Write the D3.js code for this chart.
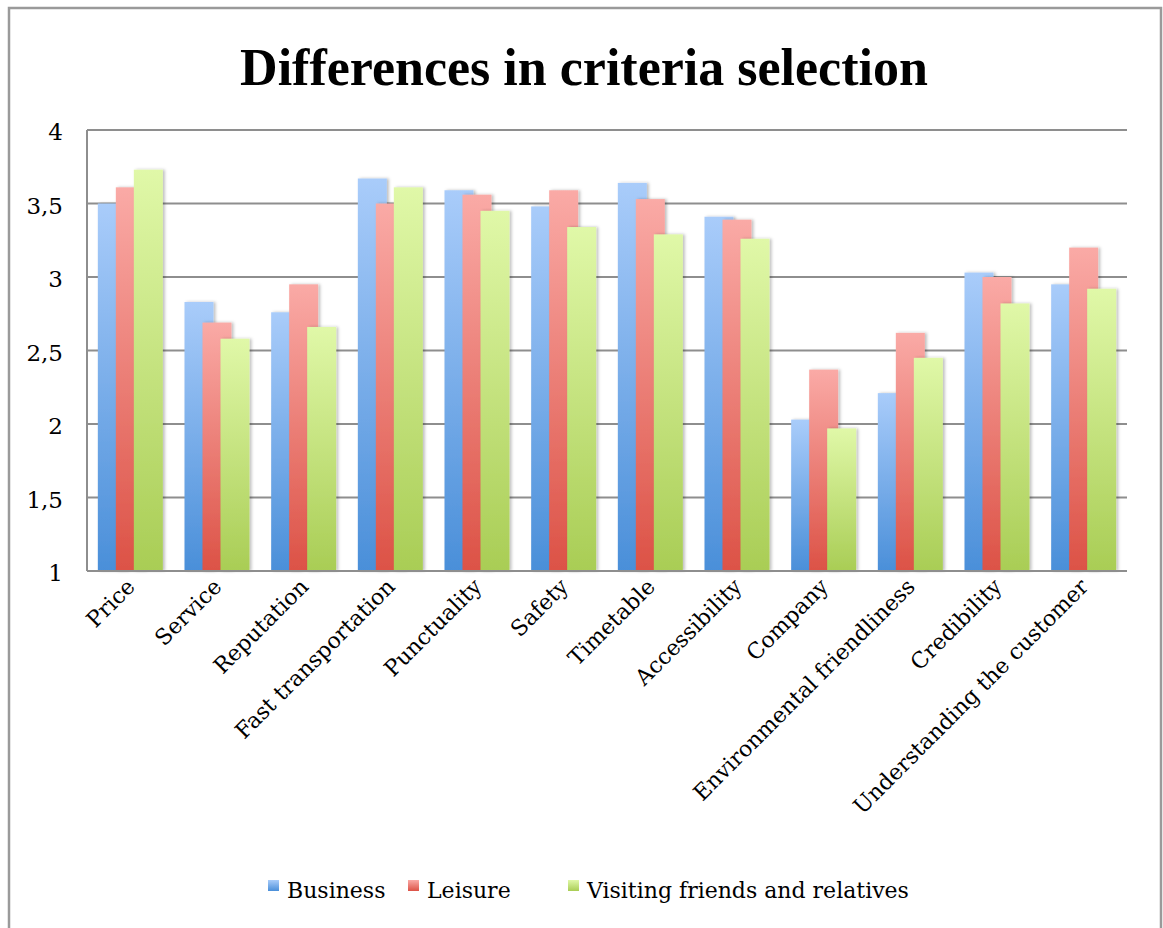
<!DOCTYPE html>
<html>
<head>
<meta charset="utf-8">
<script src="https://cdn.jsdelivr.net/npm/d3@7"></script>
<style>
  body { margin: 0; background: #fff; }
  svg { display: block; }
</style>
</head>
<body>
<div id="chart"></div>
<script>
// values
const categories = ["Price", "Service", "Reputation", "Fast transportation", "Punctuality", "Safety",
    "Timetable", "Accessibility", "Company", "Environmental friendliness", "Credibility", "Understanding the customer"];
const seriesNames = ["Business", "Leisure", "Visiting friends and relatives"];
const business = [3.50, 2.83, 2.76, 3.67, 3.59, 3.48, 3.64, 3.41, 2.03, 2.21, 3.03, 2.95];
const leisure  = [3.61, 2.69, 2.95, 3.50, 3.56, 3.59, 3.53, 3.39, 2.37, 2.62, 3.00, 3.20];
const visiting = [3.73, 2.58, 2.66, 3.61, 3.45, 3.34, 3.29, 3.26, 1.97, 2.45, 2.82, 2.92];
const yTicks = [1, 1.5, 2, 2.5, 3, 3.5, 4];

const W = 1163, H = 928;
const plot = {left: 87, right: 1127, top: 130, bottom: 571};
const serif = "'DejaVu Serif', 'Liberation Serif', serif";
// top / bottom colours of each series gradient
const shades = [["#a9ccfa", "#4a8fd9"], ["#faaaa6", "#dc5246"], ["#e0f8a8", "#a9cd55"]];
const legendX = [268, 408, 568];

const svg = d3.select("#chart").append("svg").attr("width", W).attr("height", H);
const defs = svg.append("defs");
shades.forEach((s, i) => {
    let g = defs.append("linearGradient").attr("id", "grad" + i)
        .attr("x1", 0).attr("y1", 0).attr("x2", 0).attr("y2", 1);
    g.append("stop").attr("offset", "0%").attr("stop-color", s[0]);
    g.append("stop").attr("offset", "100%").attr("stop-color", s[1]);
});
defs.append("filter").attr("id", "shadow").attr("x", "-20%").attr("y", "-5%").attr("width", "150%").attr("height", "110%")
    .append("feDropShadow").attr("dx", 2).attr("dy", 0).attr("stdDeviation", 1.5)
    .attr("flood-color", "#000").attr("flood-opacity", 0.25);

// outer frame
svg.append("rect").attr("x", 9).attr("y", 8).attr("width", 1152).attr("height", 940)
    .attr("fill", "#fff").attr("stroke", "#9a9a9a").attr("stroke-width", 2.5);

svg.append("text").attr("x", 584).attr("y", 85).attr("text-anchor", "middle")
    .attr("font-family", "'Liberation Serif', serif").attr("font-weight", "bold").attr("font-size", 52)
    .attr("fill", "#000").text("Differences in criteria selection");

const x0 = d3.scaleBand().domain(categories).range([plot.left, plot.right]).paddingInner(0.25).paddingOuter(0.125);
const x1 = d3.scalePoint().domain(seriesNames).range([0, x0.bandwidth() * 36 / 65]);
const barW = x0.bandwidth() * 29 / 65;
const y = d3.scaleLinear().domain([1, 4]).range([plot.bottom, plot.top]);

// grid lines
svg.append("g").selectAll("line").data(yTicks.slice(1)).join("line")
    .attr("x1", plot.left).attr("x2", plot.right)
    .attr("y1", d => y(d)).attr("y2", d => y(d))
    .attr("stroke", "#8e8e8e").attr("stroke-width", 2);

const yAxis = svg.append("g").attr("transform", `translate(${plot.left},0)`)
    .call(d3.axisLeft(y).tickValues(yTicks).tickSize(0).tickPadding(24)
        .tickFormat(d => String(d).replace(".", ",")));
yAxis.select(".domain").remove();
yAxis.selectAll("text").attr("font-family", serif).attr("font-size", 23).attr("fill", "#000").attr("dy", "0.42em");

const series = [business, leisure, visiting];
series.forEach((vals, si) => {
    svg.append("g").selectAll("rect").data(vals).join("rect")
        .attr("x", (d, i) => x0(categories[i]) + x1(seriesNames[si]))
        .attr("y", d => y(d))
        .attr("width", barW)
        .attr("height", d => y(1) - y(d))
        .attr("fill", `url(#grad${si})`)
        .attr("filter", "url(#shadow)");
});

// axis lines
svg.append("line").attr("x1", plot.left).attr("x2", plot.left).attr("y1", plot.top).attr("y2", plot.bottom)
    .attr("stroke", "#8e8e8e").attr("stroke-width", 2);
svg.append("line").attr("x1", plot.left).attr("x2", plot.right).attr("y1", plot.bottom).attr("y2", plot.bottom)
    .attr("stroke", "#8e8e8e").attr("stroke-width", 2);

// category labels, rotated
svg.append("g").selectAll("text").data(categories).join("text")
    .attr("transform", d => `translate(${x0(d) + x0.bandwidth() / 2 + 6},${plot.bottom + 17}) rotate(-45)`)
    .attr("text-anchor", "end").attr("font-family", serif).attr("font-size", 22).attr("fill", "#000")
    .text(d => d);

// legend
const legend = svg.append("g");
seriesNames.forEach((name, i) => {
    legend.append("rect").attr("x", legendX[i]).attr("y", 880).attr("width", 11).attr("height", 11)
        .attr("fill", `url(#grad${i})`);
    legend.append("text").attr("x", legendX[i] + 19).attr("y", 898)
        .attr("font-family", serif).attr("font-size", 22).attr("fill", "#000").text(name);
});
</script>
</body>
</html>
